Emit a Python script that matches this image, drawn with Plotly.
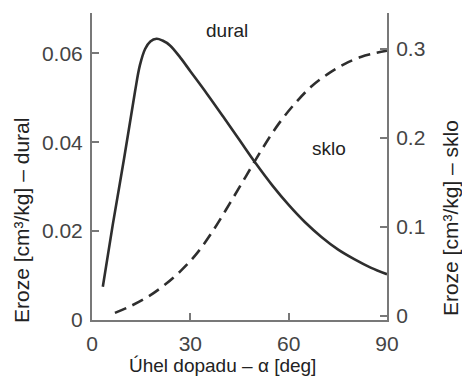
import plotly.graph_objects as go

# Data
dural_angle = [3.3, 6.3, 9.8, 13.1, 14.6, 16.2, 17.8, 19.7, 21.5, 23.8, 27.0, 30.0, 35.0,
               40.0, 45.0, 50.0, 55.0, 60.0, 65.0, 70.0, 75.0, 80.0, 85.0, 90.0]
dural_erosion = [0.0075, 0.0213, 0.0364, 0.0513, 0.0573, 0.0610, 0.0627, 0.0633, 0.0629,
                 0.0618, 0.0590, 0.0560, 0.0510, 0.0458, 0.0405, 0.0352, 0.0303, 0.0259,
                 0.0220, 0.0187, 0.0159, 0.0137, 0.0118, 0.0103]

sklo_angle = [7, 12, 17, 22, 27, 32, 37, 42, 47, 52, 57, 62, 67, 72, 77, 82, 86, 90]
sklo_erosion = [0.003, 0.011, 0.021, 0.034, 0.050, 0.070, 0.096, 0.126, 0.157, 0.188,
                0.216, 0.239, 0.258, 0.272, 0.283, 0.291, 0.295, 0.298]

x_ticks = [0, 30, 60, 90]
x_tick_labels = ["0", "30", "60", "90"]
y_left_ticks = [0, 0.02, 0.04, 0.06]
y_left_labels = ["0", "0.02", "0.04", "0.06"]
y_right_ticks = [0, 0.1, 0.2, 0.3]
y_right_labels = ["0", "0.1", "0.2", "0.3"]

FONT = "Liberation Sans, Arial, sans-serif"
AX = "#787878"
TICKFONT = dict(family=FONT, size=21, color="#444444")

fig = go.Figure()
fig.add_trace(go.Scatter(x=dural_angle, y=dural_erosion, mode="lines",
                         line=dict(color="#2e2e2e", width=2.6, shape="spline", smoothing=1.0),
                         yaxis="y", showlegend=False))
fig.add_trace(go.Scatter(x=sklo_angle, y=sklo_erosion, mode="lines",
                         line=dict(color="#2e2e2e", width=2.6, shape="spline", smoothing=1.0,
                                   dash="12px,7px"),
                         yaxis="y2", showlegend=False))

axis_common = dict(showgrid=False, zeroline=False, showline=True, linecolor=AX, linewidth=2,
                   ticks="inside", ticklen=7, tickwidth=2, tickcolor=AX, tickfont=TICKFONT)

fig.update_layout(
    width=462, height=384,
    margin=dict(l=92, r=75, t=13, b=64, pad=0),
    paper_bgcolor="white", plot_bgcolor="white",
    xaxis=dict(range=[0, 90], tickvals=x_ticks, ticktext=x_tick_labels,
               ticklabelstandoff=4, **axis_common),
    yaxis=dict(range=[0, 0.0691], tickvals=y_left_ticks, ticktext=y_left_labels,
               ticklabelstandoff=3, **axis_common),
    yaxis2=dict(range=[-0.005, 0.3405], tickvals=y_right_ticks, ticktext=y_right_labels,
                overlaying="y", side="right", ticklabelstandoff=3, **axis_common),
    annotations=[
        dict(text="Eroze [cm³/kg] – dural", xref="paper", yref="paper", x=-0.2407, y=0.3257,
             textangle=-90, showarrow=False, xanchor="center", yanchor="middle",
             font=dict(family=FONT, size=21, color="#222222")),
        dict(text="Eroze [cm³/kg] – sklo", xref="paper", yref="paper", x=1.2136, y=0.332,
             textangle=-90, showarrow=False, xanchor="center", yanchor="middle",
             font=dict(family=FONT, size=21, color="#222222")),
        dict(text="Úhel dopadu – α [deg]", xref="paper", yref="paper", x=0.4407, y=-0.1498,
             showarrow=False, xanchor="center", yanchor="middle",
             font=dict(family=FONT, size=19, color="#222222")),
        dict(text="dural", xref="x", yref="y", x=41.2, y=0.0651, showarrow=False,
             xanchor="center", yanchor="middle", font=dict(family=FONT, size=19, color="#222222")),
        dict(text="sklo", xref="x", yref="y", x=72.3, y=0.0387, showarrow=False,
             xanchor="center", yanchor="middle", font=dict(family=FONT, size=19, color="#222222")),
    ],
)

fig.write_html("out.html")
